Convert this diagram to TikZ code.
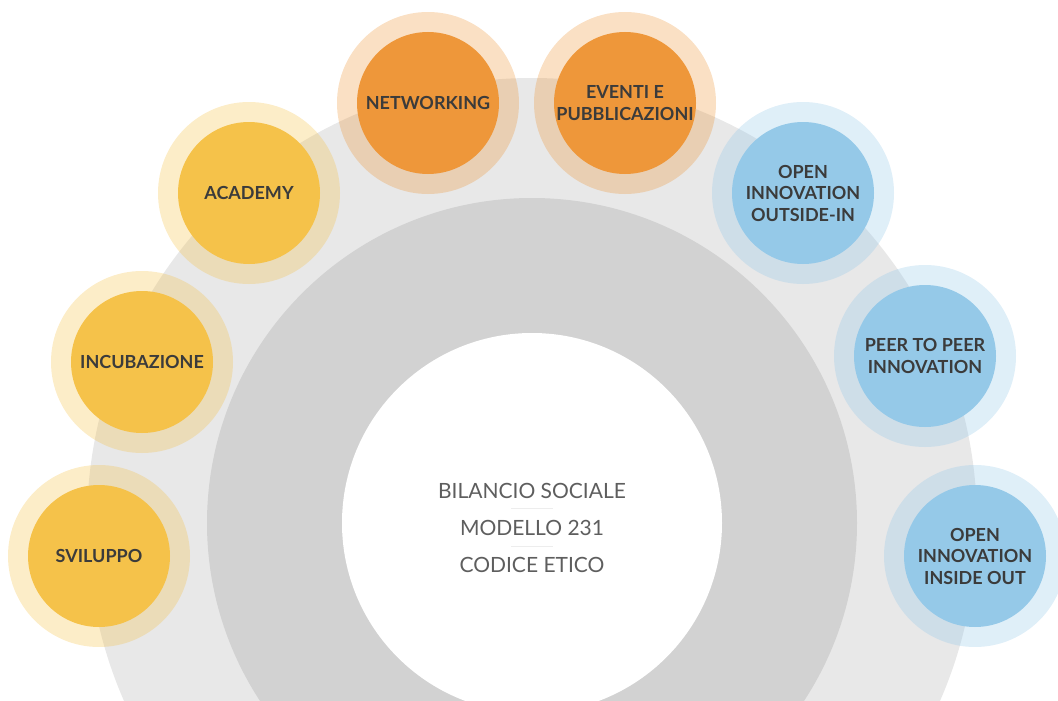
\documentclass[tikz,border=0pt]{standalone}
\usepackage{fontspec}
\setmainfont{Lato}
\definecolor{ringlight}{HTML}{E8E8E8}
\definecolor{ringdark}{HTML}{D2D2D2}
\definecolor{yel}{HTML}{F5C24A}
\definecolor{ora}{HTML}{EE973A}
\definecolor{blu}{HTML}{95C9E8}
\definecolor{txt}{HTML}{3B3B3B}
\definecolor{midtxt}{HTML}{5E5E5E}
\definecolor{sepline}{HTML}{EDEDED}
\begin{document}
\begin{tikzpicture}[x=1pt,y=-1pt,
    ring/.style={circle,fill=#1,inner sep=0pt},
    halo/.style={circle,fill=#1,fill opacity=0.3,minimum size=182pt,inner sep=0pt},
    dot/.style={circle,fill=#1,minimum size=142pt,inner sep=0pt,text=txt,align=center,font=\bfseries\fontsize{18}{21.5}\selectfont},
    mid/.style={text=midtxt,inner sep=0pt,font=\fontsize{21}{24}\selectfont},
    sep/.style={sepline,line width=1pt}]
      \clip (0,0) rectangle (1058,701);
      % Rings
      \node[ring=ringlight,minimum size=890pt] (outer) at (532,523) {};
      \node[ring=ringdark,minimum size=650pt] (inner) at (532,523) {};
      \node[ring=white,minimum size=380pt] (core) at (532,523) {};

      % Centre
      \node[mid] (bilancio) at (532,491) {BILANCIO SOCIALE};
      \node[mid] (modello) at (532,528) {MODELLO 231};
      \node[mid] (codice) at (532,565) {CODICE ETICO};
      \draw[sep] (511,508) -- (553,508);
      \draw[sep] (511,546) -- (553,546);

      % Left branch
      \node[halo=yel] (sviluppoh) at (99,556) {};
      \node[dot=yel] (sviluppo) at (99,556) {SVILUPPO};
      \node[halo=yel] (incubh) at (142,362) {};
      \node[dot=yel] (incub) at (142,362) {INCUBAZIONE};
      \node[halo=yel] (academyh) at (249,193) {};
      \node[dot=yel] (academy) at (249,193) {ACADEMY};

      % Top branch
      \node[halo=ora] (networkh) at (428,103) {};
      \node[dot=ora] (network) at (428,103) {NETWORKING};
      \node[halo=ora] (eventih) at (625,103) {};
      \node[dot=ora] (eventi) at (625,103) {EVENTI E\\PUBBLICAZIONI};

      % Right branch
      \node[halo=blu] (outsideh) at (803,193) {};
      \node[dot=blu] (outside) at (803,193) {OPEN\\INNOVATION\\OUTSIDE-IN};
      \node[halo=blu] (peerh) at (925,356) {};
      \node[dot=blu] (peer) at (925,356) {PEER TO PEER\\INNOVATION};
      \node[halo=blu] (insideh) at (975,556) {};
      \node[dot=blu] (inside) at (975,556) {OPEN\\INNOVATION\\INSIDE OUT};
\end{tikzpicture}
\end{document}
